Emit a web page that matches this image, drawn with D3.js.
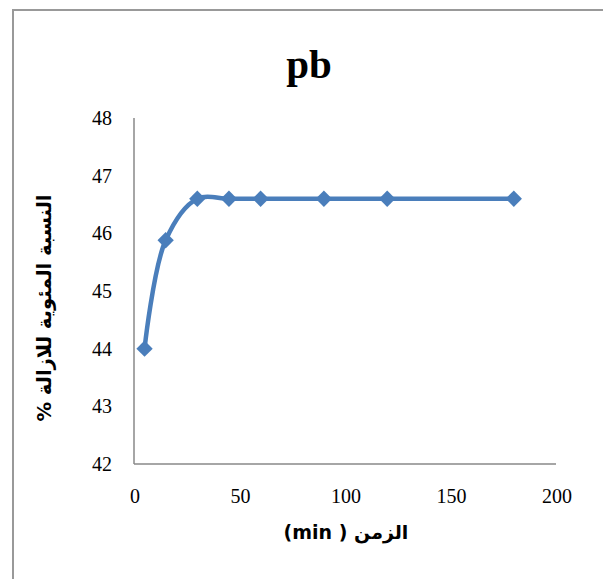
<!DOCTYPE html>
<html>
<head>
<meta charset="utf-8">
<script src="https://cdn.jsdelivr.net/npm/d3@7"></script>
</head>
<body style="margin:0">
<script>
// data
const times = [5, 15, 30, 45, 60, 90, 120, 180];
const removal = [44, 45.88, 46.6, 46.6, 46.6, 46.6, 46.6, 46.6];
const xTicks = [0, 50, 100, 150, 200];
const yTicks = [42, 43, 44, 45, 46, 47, 48];

const width = 603;
const height = 579;
const latinFont = '"Liberation Serif"';
const arabicFont = '"DejaVu Sans"';

const svg = d3.select("body").append("svg")
  .attr("width", width)
  .attr("height", height);

// outer chart border (runs off the right and bottom edges)
svg.append("rect")
  .attr("x", 13)
  .attr("y", 10)
  .attr("width", 620)
  .attr("height", 600)
  .attr("fill", "none")
  .attr("stroke", "#999")
  .attr("stroke-width", 2);

const x = d3.scaleLinear().domain([0, 200]).range([134, 556]);
const y = d3.scaleLinear().domain([42, 48]).range([464, 118]);

// title
svg.append("text")
  .attr("x", 309)
  .attr("y", 78)
  .attr("text-anchor", "middle")
  .attr("font-family", "Liberation Serif")
  .style("font", `bold 41px ${latinFont}`)
  .text("pb");

// axes lines
svg.append("line")
  .attr("x1", x(0)).attr("x2", x(0))
  .attr("y1", y(48)).attr("y2", y(42))
  .attr("stroke", "#888").attr("stroke-width", 1.5);
svg.append("line")
  .attr("x1", x(0)).attr("x2", x(200))
  .attr("y1", y(42)).attr("y2", y(42))
  .attr("stroke", "#888").attr("stroke-width", 1.5);

// tick labels
svg.append("g").selectAll("text")
  .data(yTicks)
  .join("text")
  .attr("x", 112)
  .attr("y", d => y(d) + 7)
  .attr("text-anchor", "end")
  .attr("font-family", "Liberation Serif")
  .style("font", `20px ${latinFont}`)
  .text(d => d);

svg.append("g").selectAll("text")
  .data(xTicks)
  .join("text")
  .attr("x", d => x(d) + 1)
  .attr("y", 503)
  .attr("text-anchor", "middle")
  .attr("font-family", "Liberation Serif")
  .style("font", `20px ${latinFont}`)
  .text(d => d);

// axis titles
svg.append("text")
  .attr("x", 346)
  .attr("y", 539)
  .attr("text-anchor", "middle")
  .attr("direction", "rtl")
  .style("font-family", arabicFont)
  .style("font-weight", "bold")
  .style("font-size", "19px")
  .text("الزمن ( min)");

svg.append("text")
  .attr("transform", "translate(51, 308) rotate(-90)")
  .attr("text-anchor", "middle")
  .attr("direction", "rtl")
  .style("font-family", arabicFont)
  .style("font-weight", "bold")
  .style("font-size", "19.5px")
  .text("النسبة المئوية للازالة %");

// smoothed series line
const points = times.map((t, i) => [t, removal[i]]);
const line = d3.line()
  .x(d => x(d[0]))
  .y(d => y(d[1]))
  .curve(d3.curveCatmullRom.alpha(0.5));

svg.append("path")
  .datum(points)
  .attr("d", line)
  .attr("fill", "none")
  .attr("stroke", "#4a7ebb")
  .attr("stroke-width", 4.5);

// diamond markers
const diamond = d3.symbol().type(d3.symbolDiamond2).size(170);
svg.append("g").selectAll("path")
  .data(points)
  .join("path")
  .attr("transform", d => `translate(${x(d[0])},${y(d[1])})`)
  .attr("d", diamond)
  .attr("fill", "#4a7ebb");
</script>
</body>
</html>
